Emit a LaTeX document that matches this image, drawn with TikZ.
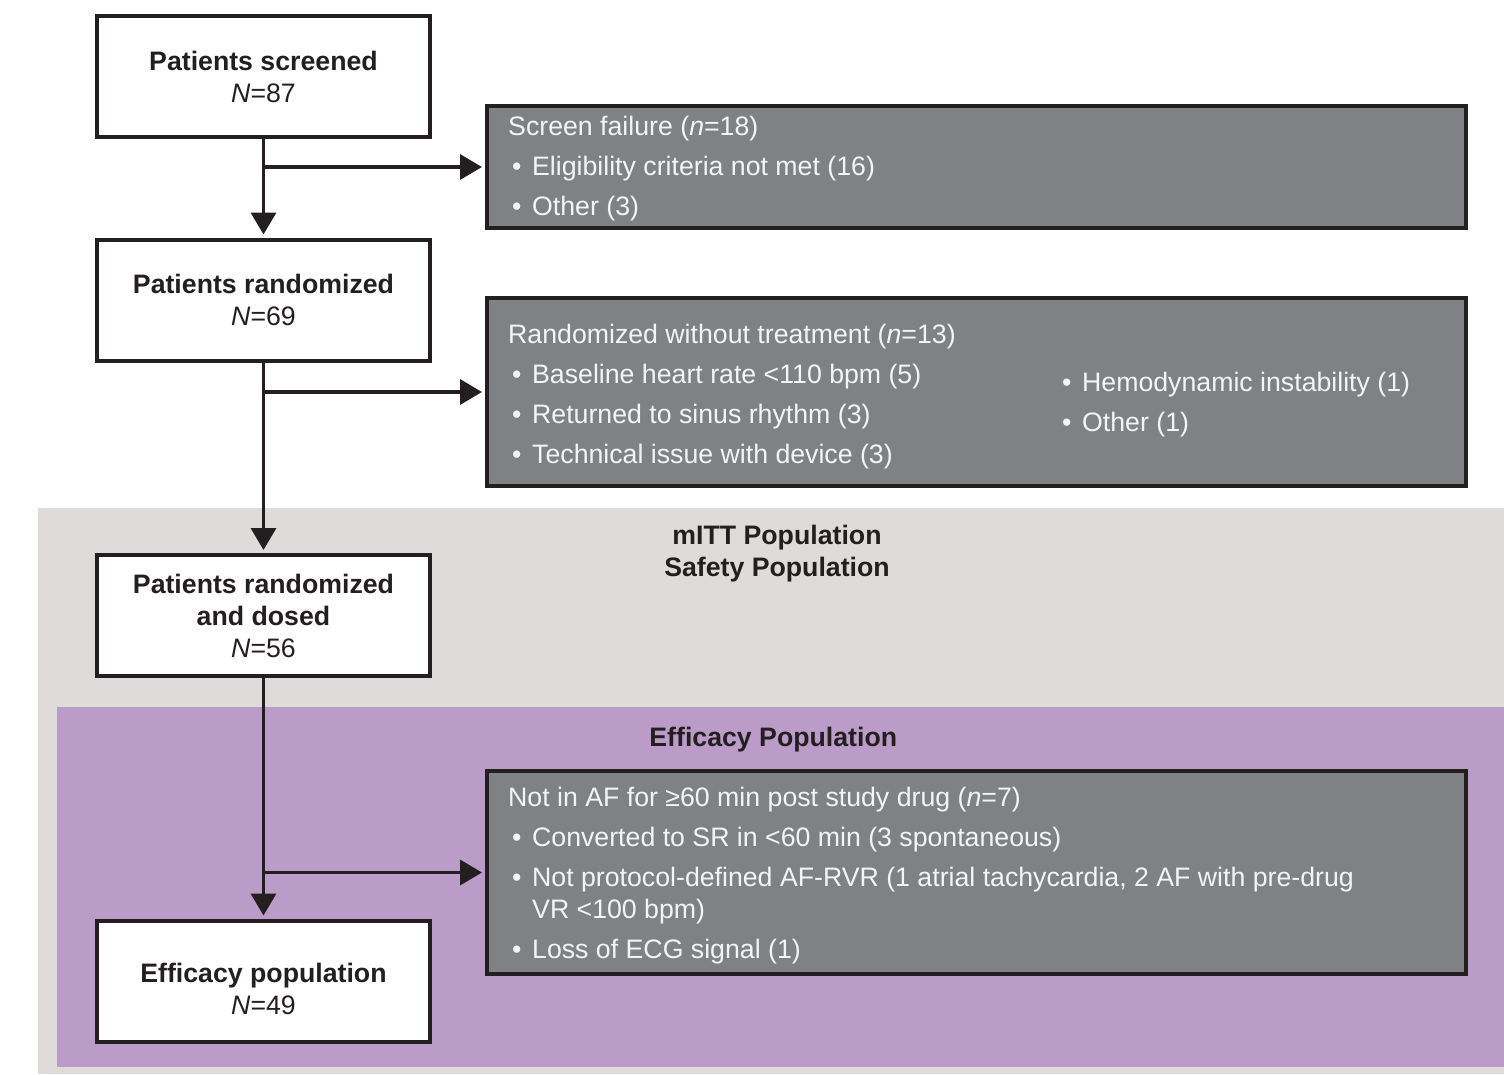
\documentclass[tikz,border=0pt]{standalone}
\usepackage{fontspec}
\setmainfont{Liberation Sans}
\usetikzlibrary{positioning,arrows.meta}

\definecolor{inkline}{HTML}{231F20}
\definecolor{boxgray}{HTML}{808184}
\definecolor{boxtext}{HTML}{F4F4F4}
\definecolor{bandgray}{HTML}{DFDBDA}
\definecolor{bandpurple}{HTML}{BB9BC8}

\newcommand{\bul}{\makebox[24pt][l]{\hspace{4pt}\textbullet}}

\begin{document}
\begin{tikzpicture}[x=1pt, y=-1pt, font=\fontsize{26.7}{32}\selectfont,
	block/.style = { rectangle, draw=inkline, line width=4pt, fill=white,
	text=inkline, align=center, minimum width=333pt, minimum height=121pt },
	reason/.style = { rectangle, draw=inkline, line width=4pt, fill=boxgray,
	minimum width=979pt },
	reasontext/.style = { inner sep=0pt, align=left, text=boxtext,
	font=\fontsize{26.7}{40}\selectfont },
	poplabel/.style = { align=center, text=inkline,
	font=\fontsize{26.7}{32}\selectfont\bfseries },
	flow/.style = { draw=inkline, line width=3.5pt, shorten >=3pt,
	-{Triangle[length=22pt, width=25pt]} } ]

  \useasboundingbox (0,0) rectangle (1504,1074);

  % population bands
  \fill [bandgray] (38,508) rectangle (1504,1074);
  \fill [bandpurple] (57,707) rectangle (1504,1067);

  \node [name=mitt, poplabel] at (777,554) { mITT Population\\Safety Population };
  \node [name=effpop, poplabel] at (777,740) { Efficacy Population };

  % main flow
  \node [name=screened, block] at (263.5,76.5)
	{ {\bfseries Patients screened}\\\textit{N}=87 };
  \node [name=randomized, block] at (263.5,300)
	{ {\bfseries Patients randomized}\\\textit{N}=69 };
  \node [name=dosed, block] at (263.5,615.5)
	{ {\bfseries Patients randomized}\\{\bfseries and dosed}\\\textit{N}=56 };
  \node [name=efficacy, block] at (263.5,981) {};
  \node [name=efficacytext, align=center, text=inkline] at (263.5,989)
	{ {\bfseries Efficacy population}\\\textit{N}=49 };

  % exclusions
  \node [name=failure, reason, minimum height=122pt] at (976.5,167) {};
  \node [name=failuretext, reasontext, below right=12pt and 23pt of failure.north west]
	{ Screen failure (\textit{n}=18)\\
	  \bul Eligibility criteria not met (16)\\
	  \bul Other (3) };

  \node [name=untreated, reason, minimum height=188pt] at (976.5,392) {};
  \node [name=untreatedtext, reasontext, below right=28pt and 23pt of untreated.north west]
	{ Randomized without treatment (\textit{n}=13)\\
	  \bul Baseline heart rate <110 bpm (5)\\
	  \bul Returned to sinus rhythm (3)\\
	  \bul Technical issue with device (3) };
  \node [name=untreatedmore, reasontext, anchor=north west] at (1058,372)
	{ \bul Hemodynamic instability (1)\\
	  \bul Other (1) };

  \node [name=excluded, reason, minimum height=203pt] at (976.5,872.5) {};
  \node [name=excludedtext, reasontext, below right=18pt and 23pt of excluded.north west]
	{ Not in AF for ≥60 min post study drug (\textit{n}=7)\\
	  \bul Converted to SR in <60 min (3 spontaneous)\\
	  \bul Not protocol-defined AF-RVR (1 atrial tachycardia, 2 AF with pre-drug\\[-8pt]
	  \hspace*{24pt}VR <100 bpm)\\
	  \bul Loss of ECG signal (1) };

  % connectors
  \draw [flow] (screened) -- (randomized);
  \draw [flow] (screened.south |- failure.west) -- (failure.west);
  \draw [flow] (randomized) -- (dosed);
  \draw [flow] (randomized.south |- untreated.west) -- (untreated.west);
  \draw [flow] (dosed) -- (efficacy);
  \draw [flow] (dosed.south |- excluded.west) -- (excluded.west);
\end{tikzpicture}
\end{document}
